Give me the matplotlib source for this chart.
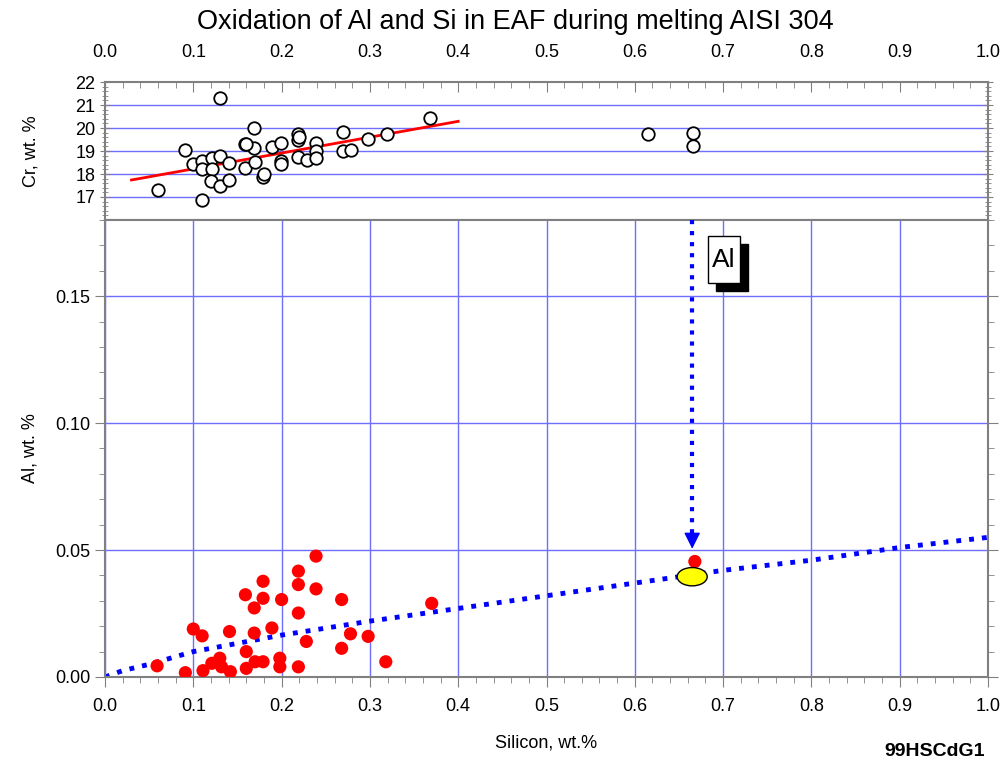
import matplotlib.pyplot as plt
from matplotlib.patches import Ellipse, Rectangle
from matplotlib.ticker import MultipleLocator

plt.rcParams['font.family'] = ['Liberation Sans', 'DejaVu Sans']

# Cr vs Si (top panel)
si_cr = [0.130, 0.169, 0.091, 0.060, 0.110, 0.100, 0.110, 0.110, 0.121, 0.121,
         0.130, 0.140, 0.120, 0.130, 0.140, 0.159, 0.169, 0.159, 0.170, 0.179,
         0.189, 0.199, 0.199, 0.199, 0.219, 0.219, 0.219, 0.229, 0.239, 0.239,
         0.239, 0.269, 0.269, 0.279, 0.298, 0.319, 0.368, 0.615, 0.666, 0.666,
         0.180, 0.160, 0.220]
cr = [21.3, 20.0, 19.03, 17.3, 16.87, 18.42, 18.57, 18.23, 18.68, 18.2,
      18.78, 18.49, 17.7, 17.48, 17.72, 19.29, 19.14, 18.28, 18.54, 17.87,
      19.17, 19.36, 18.57, 18.45, 19.72, 19.5, 18.74, 18.59, 19.36, 19.0,
      18.68, 19.84, 19.0, 19.06, 19.54, 19.72, 20.45, 19.72, 19.8, 19.22,
      17.98, 19.3, 19.6]

# regression line for Cr
fit_si = [0.03, 0.40]
fit_cr = [17.74, 20.29]

# Al vs Si (bottom panel)
si_al = [0.059, 0.091, 0.100, 0.110, 0.111, 0.121, 0.130, 0.132, 0.141, 0.142,
         0.159, 0.160, 0.160, 0.169, 0.169, 0.170, 0.179, 0.179, 0.179, 0.189,
         0.200, 0.198, 0.198, 0.219, 0.219, 0.219, 0.219, 0.228, 0.239, 0.239,
         0.268, 0.268, 0.278, 0.298, 0.318, 0.370, 0.668]
al = [0.0044, 0.0017, 0.0189, 0.0162, 0.0025, 0.0054, 0.0074, 0.0040, 0.0179, 0.0021,
      0.0324, 0.0100, 0.0034, 0.0272, 0.0173, 0.0060, 0.0377, 0.0310, 0.0060, 0.0193,
      0.0305, 0.0074, 0.0040, 0.0417, 0.0364, 0.0252, 0.0040, 0.0140, 0.0476, 0.0347,
      0.0305, 0.0113, 0.0170, 0.0160, 0.0060, 0.0290, 0.0455]

# dotted Al trend curve
curve_si = [0.0, 0.02, 0.05, 0.1, 0.2, 0.3, 0.4, 0.5, 0.6, 0.7, 0.8, 0.9, 1.0]
curve_al = [0.0, 0.0025, 0.005, 0.010, 0.0165, 0.022, 0.027, 0.032, 0.037, 0.042, 0.046, 0.051, 0.055]

# marked point and arrow
mark_si = 0.665
mark_al = 0.0395
arrow_top = 0.18
arrow_tip = 0.0505

x_ticks = [0.0, 0.1, 0.2, 0.3, 0.4, 0.5, 0.6, 0.7, 0.8, 0.9, 1.0]
cr_ticks = [17, 18, 19, 20, 21, 22]
al_ticks = [0.00, 0.05, 0.10, 0.15]

grid_col = '#6f6fff'
frame_col = '#808080'

fig = plt.figure(figsize=(10, 7.73), dpi=100)
ax_top = fig.add_axes([0.105, 0.7154, 0.883, 0.1785])
ax = fig.add_axes([0.105, 0.1242, 0.883, 0.5912])

for a in (ax_top, ax):
    for s in a.spines.values():
        s.set_color(frame_col)
        s.set_linewidth(1.5)
    a.set_xlim(0, 1.0)
    a.xaxis.set_minor_locator(MultipleLocator(0.02))
    a.tick_params(which='both', colors=frame_col, labelcolor='black', labelsize=13)
    a.tick_params(which='major', length=7)
    a.tick_params(which='minor', length=4)

# top panel
ax_top.set_ylim(16, 22)
ax_top.set_yticks(cr_ticks)
ax_top.yaxis.set_minor_locator(MultipleLocator(0.2))
ax_top.set_xticks(x_ticks)
ax_top.xaxis.tick_top()
ax_top.tick_params(axis='x', which='both', direction='in', pad=15)
ax_top.tick_params(axis='y', which='both', right=True, direction='inout')
for v in cr_ticks[:-1]:
    ax_top.axhline(v, color=grid_col, lw=1, zorder=0)
ax_top.plot(fit_si, fit_cr, color='red', lw=2, zorder=2)
ax_top.plot(si_cr, cr, 'o', ms=9, mfc='white', mec='black', mew=1.3, zorder=3)
ax_top.set_ylabel('Cr, wt. %', fontsize=13, labelpad=26)
fig.text(0.515, 0.972, 'Oxidation of Al and Si in EAF during melting AISI 304',
         fontsize=19.5, ha='center', va='center')

# bottom panel
ax.set_ylim(0, 0.18)
ax.set_yticks(al_ticks)
ax.set_yticklabels([f'{v:.2f}' for v in al_ticks])
ax.yaxis.set_minor_locator(MultipleLocator(0.01))
ax.set_xticks(x_ticks)
ax.set_xticklabels([f'{v:.1f}' for v in x_ticks])
ax.tick_params(axis='x', which='both', direction='out', pad=8)
ax.tick_params(axis='y', which='both', right=True, direction='out')
ax.grid(True, which='major', color=grid_col, lw=1, zorder=0)
ax.set_axisbelow(True)

ax.plot(curve_si, curve_al, ':', color='blue', lw=3.5, zorder=2)
ax.scatter(si_al, al, s=90, color='red', edgecolors='none', zorder=3)
ax.add_patch(Ellipse((mark_si, mark_al), 0.034, 0.0072, facecolor='yellow',
                     edgecolor='black', lw=1, zorder=4))

# dotted arrow pointing at the marked point
ax.plot([mark_si, mark_si], [arrow_top, arrow_tip + 0.006], ':', color='blue', lw=3, zorder=5)
ax.annotate('', xy=(mark_si, arrow_tip), xytext=(mark_si, arrow_tip + 0.0065),
            arrowprops=dict(arrowstyle='-|>', color='blue', lw=1,
                            mutation_scale=25, shrinkA=0, shrinkB=0), zorder=5)

# "Al" label box with drop shadow
box_x, box_y, box_w, box_h = 0.683, 0.1551, 0.036, 0.0186
ax.add_patch(Rectangle((box_x + 0.009, box_y - 0.0032), box_w, box_h,
                       facecolor='black', edgecolor='black', zorder=6))
ax.add_patch(Rectangle((box_x, box_y), box_w, box_h,
                       facecolor='white', edgecolor='black', lw=1, zorder=7))
ax.text(box_x + box_w / 2, box_y + box_h / 2, 'Al', fontsize=19,
        ha='center', va='center', zorder=8)

ax.set_xlabel('Silicon, wt.%', fontsize=13, labelpad=14)
ax.set_ylabel('Al, wt. %', fontsize=13, labelpad=12)
fig.text(0.985, 0.017, '99HSCdG1', fontsize=14, fontweight='bold', ha='right', va='bottom')

fig.savefig('out.png', dpi=100)
